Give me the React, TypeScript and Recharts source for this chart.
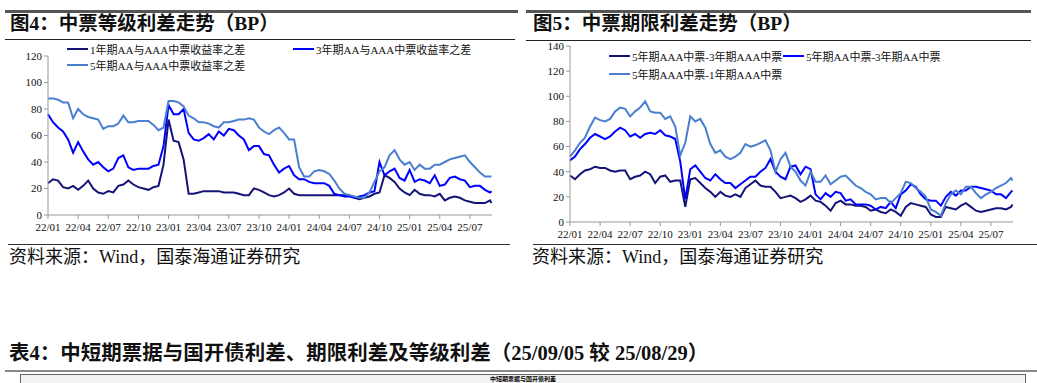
import { LineChart, Line, XAxis, YAxis } from 'recharts';

// half-month steps from 22/01 to 25/09/05 (x = months since 2022-01)
const months = Array.from({ length: 89 }, (_, i) => i / 2).concat([44.15]);

const tickPos = [0, 3, 6, 9, 12, 15, 18, 21, 24, 27, 30, 33, 36, 39, 42];
const tickLabels = [
  '22/01', '22/04', '22/07', '22/10', '23/01', '23/04', '23/07', '23/10',
  '24/01', '24/04', '24/07', '24/10', '25/01', '25/04', '25/07',
];

// 图4 等级利差
const aa1y = [
  24, 27, 26, 21, 20, 22, 19, 22, 26, 20, 17, 16,
  18, 17, 22, 23, 26, 23, 21, 20, 19, 21, 22, 38,
  72, 56, 55, 42, 16, 16, 17, 18, 18, 18, 18, 17,
  17, 17, 16, 15, 15, 20, 19, 17, 15, 14, 15, 17,
  20, 16, 15, 15, 15, 15, 15, 15, 15, 15, 15, 15,
  15, 13, 12, 13, 14, 16, 17, 30, 28, 25, 20, 17,
  15, 19, 16, 15, 15, 14, 16, 11, 13, 14, 13, 11,
  10, 9, 9, 9, 11, 9,
];
const aa3y = [
  76, 70, 66, 63, 57, 47, 55, 48, 42, 38, 40, 36,
  33, 35, 43, 45, 36, 34, 35, 35, 35, 37, 38, 52,
  83, 76, 76, 80, 62, 57, 56, 58, 61, 57, 63, 60,
  65, 64, 60, 57, 49, 52, 52, 46, 45, 38, 32, 35,
  37, 30, 27, 27, 25, 24, 24, 24, 22, 16, 15, 14,
  14, 13, 14, 15, 17, 18, 40, 30, 33, 35, 28, 26,
  34, 25, 27, 26, 24, 30, 22, 23, 28, 29, 27, 26,
  21, 22, 22, 19, 17, 18,
];
const aa5y = [
  88, 88, 87, 85, 85, 73, 80, 76, 74, 73, 72, 65,
  67, 67, 69, 75, 70, 70, 71, 71, 71, 68, 64, 66,
  86, 86, 85, 82, 75, 73, 70, 70, 69, 67, 66, 70,
  70, 71, 72, 72, 73, 72, 66, 63, 61, 64, 66, 62,
  57, 57, 36, 29, 29, 33, 34, 33, 31, 26, 20, 16,
  15, 14, 13, 13, 17, 25, 33, 36, 45, 49, 42, 38,
  40, 34, 38, 35, 35, 38, 38, 40, 42, 43, 44, 45,
  40, 36, 32, 29, 29, 29,
];

// 图5 期限利差
const aaa5m3 = [
  37, 34, 38, 41, 42, 44, 43, 43, 41, 40, 41, 41,
  34, 36, 37, 40, 38, 31, 36, 37, 32, 33, 33, 12,
  34, 35, 31, 27, 24, 20, 24, 21, 20, 22, 20, 27,
  30, 33, 29, 28, 28, 24, 19, 20, 21, 19, 16, 18,
  21, 17, 16, 13, 9, 15, 17, 14, 14, 13, 13, 12,
  9, 10, 8, 7, 10, 8, 5, 12, 15, 14, 13, 12,
  6, 4, 4, 12, 11, 10, 13, 15, 12, 9, 8, 9,
  10, 11, 11, 10, 12, 14,
];
const aa5m3 = [
  49, 52, 58, 62, 67, 70, 68, 66, 68, 72, 75, 73,
  68, 70, 67, 70, 71, 70, 73, 69, 68, 66, 48, 18,
  42, 45, 40, 35, 33, 38, 34, 31, 31, 27, 30, 33,
  36, 36, 40, 43, 50, 40, 36, 34, 44, 45, 38, 44,
  42, 22, 18, 23, 20, 24, 23, 17, 18, 14, 14, 14,
  13, 10, 12, 11, 16, 11, 22, 25, 30, 28, 22, 18,
  17, 17, 13, 20, 24, 21, 25, 25, 28, 28, 27, 26,
  25, 22, 22, 19, 24, 25,
];
const aaa5m1 = [
  52, 57, 63, 67, 76, 83, 81, 80, 82, 88, 91, 90,
  84, 88, 91, 96, 88, 87, 87, 82, 84, 76, 53, 63,
  84, 80, 82, 75, 62, 55, 57, 52, 50, 52, 55, 62,
  60, 61, 63, 65, 57, 40, 50, 55, 44, 40, 33, 29,
  40, 32, 32, 37, 30, 33, 36, 37, 33, 29, 27, 24,
  22, 18, 19, 19, 15, 19, 23, 32, 31, 27, 24, 20,
  10, 8, 5, 15, 22, 25, 22, 28, 28, 23, 19, 22,
  24, 27, 29, 31, 35, 33,
];

const NAVY = '#141478';
const BLUE = '#0000ff';
const LIGHT = '#4a7fd0';

const serif = '"Liberation Serif", "Times New Roman", "Noto Sans CJK SC", serif';

const gradeData = months.map((m, i) => ({ m, a: aa1y[i], b: aa3y[i], c: aa5y[i] }));
const termData = months.map((m, i) => ({ m, a: aaa5m3[i], b: aa5m3[i], c: aaa5m1[i] }));

const tickStyle = { fontSize: 11, fill: '#111', fontFamily: serif };

function fmtMonth(v: number) {
  const i = tickPos.indexOf(v);
  return i >= 0 ? tickLabels[i] : '';
}

type LegendItem = { name: string; color: string; x: number; y: number };

function LegendOverlay({ items }: { items: LegendItem[] }) {
  return (
    <>
      {items.map((it) => (
        <div
          key={it.name}
          style={{
            position: 'absolute',
            left: it.x,
            top: it.y - 7,
            height: 14,
            display: 'flex',
            alignItems: 'center',
            whiteSpace: 'nowrap',
            fontSize: 11,
            fontFamily: serif,
            color: '#111',
          }}
        >
          <span style={{ display: 'inline-block', width: 21, height: 2, background: it.color, marginRight: 2 }} />
          <span>{it.name}</span>
        </div>
      ))}
    </>
  );
}

function Rule({ x, y, w, h, c }: { x: number; y: number; w: number; h: number; c: string }) {
  return <div style={{ position: 'absolute', left: x, top: y, width: w, height: h, background: c }} />;
}

function Txt({ x, y, size, bold, children }: { x: number; y: number; size: number; bold?: boolean; children: any }) {
  return (
    <div
      style={{
        position: 'absolute',
        left: x,
        top: y,
        fontSize: size,
        fontWeight: bold ? 'bold' : 'normal',
        fontFamily: serif,
        whiteSpace: 'nowrap',
        lineHeight: 1,
        color: '#111',
      }}
    >
      {children}
    </div>
  );
}

export default function App() {
  return (
    <div style={{ position: 'absolute', left: 0, top: 0, width: 1037, height: 383, background: '#fff', overflow: 'hidden' }}>
      {/* left panel frame */}
      <Rule x={5} y={10} w={513} h={3} c="#555" />
      <Txt x={10} y={14} size={19.5} bold>图4：中票等级利差走势（BP）</Txt>
      <Rule x={5} y={39} w={510} h={1} c="#222" />

      {/* right panel frame */}
      <Rule x={526} y={10} w={505} h={3} c="#555" />
      <Txt x={533} y={14} size={19.5} bold>图5：中票期限利差走势（BP）</Txt>
      <Rule x={526} y={40} w={505} h={1} c="#222" />

      <div style={{ position: 'absolute', left: 0, top: 40 }}>
        <LineChart width={515} height={202} data={gradeData} margin={{ top: 16, right: 23, bottom: 0, left: 8 }}>
          <XAxis
            type="number"
            dataKey="m"
            domain={[0, 44.2]}
            ticks={tickPos}
            interval={0}
            tickFormatter={fmtMonth}
            tick={tickStyle}
            tickSize={4}
            tickMargin={4}
            height={27}
            stroke="#999"
          />
          <YAxis
            domain={[0, 120]}
            ticks={[0, 20, 40, 60, 80, 100, 120]}
            tick={tickStyle}
            tickSize={4}
            width={40}
            stroke="#999"
          />
          <Line dataKey="a" stroke={NAVY} strokeWidth={2} dot={false} isAnimationActive={false} />
          <Line dataKey="b" stroke={BLUE} strokeWidth={2} dot={false} isAnimationActive={false} />
          <Line dataKey="c" stroke={LIGHT} strokeWidth={2} dot={false} isAnimationActive={false} />
        </LineChart>
      </div>
      <LegendOverlay
        items={[
          { name: '1年期AA与AAA中票收益率之差', color: NAVY, x: 67, y: 49 },
          { name: '3年期AA与AAA中票收益率之差', color: BLUE, x: 293, y: 49 },
          { name: '5年期AA与AAA中票收益率之差', color: LIGHT, x: 67, y: 65 },
        ]}
      />

      <div style={{ position: 'absolute', left: 520, top: 40 }}>
        <LineChart width={517} height={212} data={termData} margin={{ top: 6, right: 24, bottom: 0, left: 10 }}>
          <XAxis
            type="number"
            dataKey="m"
            domain={[0, 44.2]}
            ticks={tickPos}
            interval={0}
            tickFormatter={fmtMonth}
            tick={tickStyle}
            tickSize={4}
            tickMargin={4}
            height={30}
            stroke="#999"
          />
          <YAxis
            domain={[0, 140]}
            ticks={[0, 20, 40, 60, 80, 100, 120, 140]}
            tick={tickStyle}
            tickSize={4}
            width={40}
            stroke="#999"
          />
          <Line dataKey="a" stroke={NAVY} strokeWidth={2} dot={false} isAnimationActive={false} />
          <Line dataKey="b" stroke={BLUE} strokeWidth={2} dot={false} isAnimationActive={false} />
          <Line dataKey="c" stroke={LIGHT} strokeWidth={2} dot={false} isAnimationActive={false} />
        </LineChart>
      </div>
      <LegendOverlay
        items={[
          { name: '5年期AAA中票-3年期AAA中票', color: NAVY, x: 609, y: 56 },
          { name: '5年期AA中票-3年期AA中票', color: BLUE, x: 783, y: 56 },
          { name: '5年期AAA中票-1年期AAA中票', color: LIGHT, x: 609, y: 74 },
        ]}
      />

      {/* sources */}
      <Rule x={8} y={244} w={502} h={1} c="#333" />
      <Txt x={9} y={248} size={18}>资料来源：Wind，国泰海通证券研究</Txt>
      <Rule x={533} y={244} w={504} h={1} c="#333" />
      <Txt x={532} y={248} size={18}>资料来源：Wind，国泰海通证券研究</Txt>

      {/* table caption */}
      <Txt x={9} y={343} size={20.5} bold>表4：中短期票据与国开债利差、期限利差及等级利差（25/09/05 较 25/08/29）</Txt>
      <Rule x={5} y={370} w={1032} h={2} c="#888" />
      <div
        style={{
          position: 'absolute',
          left: 20,
          top: 374,
          width: 1004,
          height: 12,
          border: '1px solid #666',
          background: '#f2f2f2',
          textAlign: 'center',
          fontSize: 6,
          fontWeight: 'bold',
          fontFamily: serif,
          lineHeight: '8px',
        }}
      >
        中短期票据与国开债利差
      </div>
    </div>
  );
}
